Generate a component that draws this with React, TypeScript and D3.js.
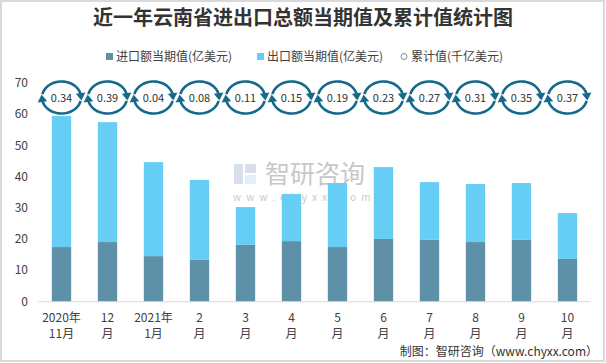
import React from "react";
import * as d3 from "d3";

const categories = [
  ["2020年", "11月"],
  ["12", "月"],
  ["2021年", "1月"],
  ["2", "月"],
  ["3", "月"],
  ["4", "月"],
  ["5", "月"],
  ["6", "月"],
  ["7", "月"],
  ["8", "月"],
  ["9", "月"],
  ["10", "月"],
];
const importValues = [17.5, 19.1, 14.6, 13.4, 18.2, 19.4, 17.5, 20.1, 19.8, 19.1, 19.8, 13.7];
const exportValues = [42.0, 38.4, 30.1, 25.6, 12.1, 15.1, 20.5, 23.0, 18.5, 18.6, 18.2, 14.7];
const cumulativeValues = ["0.34", "0.39", "0.04", "0.08", "0.11", "0.15", "0.19", "0.23", "0.27", "0.31", "0.35", "0.37"];
const yTicks = [0, 10, 20, 30, 40, 50, 60, 70];

const W = 606;
const H = 363;
const IMPORT_COLOR = "#5e91a7";
const EXPORT_COLOR = "#66cdf5";
const ICON_COLOR = "#17698b";
const FONT = "'Microsoft YaHei', 'Noto Sans CJK SC', sans-serif";

function arrowIcon(cx: number, cy: number, rx: number, ry: number) {
  const pt = (deg: number) => {
    const t = (deg * Math.PI) / 180;
    return [cx + rx * Math.cos(t), cy + ry * Math.sin(t)];
  };
  const arc = (a0: number, a1: number) => {
    const p = d3.path();
    const n = 30;
    for (let i = 0; i <= n; i++) {
      const [x, y] = pt(a0 + ((a1 - a0) * i) / n);
      if (i === 0) p.moveTo(x, y);
      else p.lineTo(x, y);
    }
    return p.toString();
  };
  const head = (deg: number) => {
    const [x, y] = pt(deg);
    const t = (deg * Math.PI) / 180;
    let dx = -rx * Math.sin(t);
    let dy = ry * Math.cos(t);
    const L = Math.hypot(dx, dy);
    dx /= L;
    dy /= L;
    const nx = -dy, ny = dx;
    const len = 7.5, w = 4.8;
    const tip = [x + dx * len * 0.6, y + dy * len * 0.6];
    const b1 = [x - dx * len * 0.4 + nx * w, y - dy * len * 0.4 + ny * w];
    const b2 = [x - dx * len * 0.4 - nx * w, y - dy * len * 0.4 - ny * w];
    return `M${tip[0]},${tip[1]}L${b1[0]},${b1[1]}L${b2[0]},${b2[1]}Z`;
  };
  return (
    <g>
      <path d={arc(192, 350)} fill="none" stroke={ICON_COLOR} strokeWidth={2.6} />
      <path d={head(355)} fill={ICON_COLOR} />
      <path d={arc(12, 170)} fill="none" stroke={ICON_COLOR} strokeWidth={2.6} />
      <path d={head(175)} fill={ICON_COLOR} />
    </g>
  );
}

export default function App() {
  const x = d3
    .scaleBand<number>()
    .domain(d3.range(categories.length))
    .range([38.5, 590.5])
    .paddingInner(0.58)
    .paddingOuter(0.29);
  const y = d3.scaleLinear().domain([0, 70]).range([301.7, 83.1]);
  const bw = x.bandwidth();

  return (
    <div style={{ position: "absolute", left: 0, top: 0 }}>
      <svg width={W} height={H} style={{ display: "block" }}>
        <rect x={0} y={0} width={W} height={H} fill="#ffffff" />
        <rect x={1} y={1} width={W - 3} height={H - 3} fill="none" stroke="#d9d9d9" strokeWidth={2} />

        {/* watermark */}
        <g opacity={0.55}>
          <rect x={234} y={164} width={9} height={20} fill="#b9c6dc" />
          <rect x={245} y={164} width={11} height={9} fill="#b9c6dc" />
          <rect x={245} y={175} width={11} height={9} fill="#c7e3f3" />
          <text x={265} y={183} fontFamily={FONT} fontSize={25} fill="#9a9a9a">智研咨询</text>
          <text x={233} y={201} fontFamily={FONT} fontSize={10} fill="#9a9a9a" letterSpacing={5.2}>www.chyxx.com</text>
        </g>

        <text x={W / 2} y={25} textAnchor="middle" fontFamily={FONT} fontWeight="bold" fontSize={20} fill="#333">
          近一年云南省进出口总额当期值及累计值统计图
        </text>

        {/* legend */}
        <g fontFamily={FONT} fontSize={12} fill="#404040">
          <rect x={106} y={53} width={7} height={7} fill={IMPORT_COLOR} />
          <text x={116} y={61}>进口额当期值(亿美元)</text>
          <rect x={257} y={53} width={7} height={7} fill={EXPORT_COLOR} />
          <text x={267} y={61}>出口额当期值(亿美元)</text>
          <circle cx={404} cy={56.5} r={3} fill="none" stroke="#7f8c99" strokeWidth={1} />
          <text x={411} y={61}>累计值(千亿美元)</text>
        </g>

        {/* y axis labels */}
        <g fontFamily={FONT} fontSize={12} fill="#404040">
          {yTicks.map((t) => (
            <text key={t} x={28} y={y(t) + 4} textAnchor="end">{t}</text>
          ))}
        </g>

        {/* bars */}
        {categories.map((_, i) => (
          <g key={i}>
            <rect x={x(i)} y={y(importValues[i])} width={bw} height={y(0) - y(importValues[i])} fill={IMPORT_COLOR} />
            <rect
              x={x(i)}
              y={y(importValues[i] + exportValues[i])}
              width={bw}
              height={y(importValues[i]) - y(importValues[i] + exportValues[i])}
              fill={EXPORT_COLOR}
            />
          </g>
        ))}

        <line x1={38.5} x2={590.5} y1={301.7} y2={301.7} stroke="#d9d9d9" strokeWidth={1} />

        {/* x labels */}
        <g fontFamily={FONT} fontSize={12} fill="#404040" textAnchor="middle">
          {categories.map((c, i) => (
            <g key={i}>
              <text x={x(i)! + bw / 2} y={322}>{c[0]}</text>
              <text x={x(i)! + bw / 2} y={338}>{c[1]}</text>
            </g>
          ))}
        </g>

        {/* cumulative icons */}
        {cumulativeValues.map((v, i) => {
          const cx = x(i)! + bw / 2;
          const cy = 97.5;
          return (
            <g key={i}>
              {arrowIcon(cx, cy, 19.5, 16)}
              <text x={cx} y={cy + 4} textAnchor="middle" fontFamily={FONT} fontSize={11} fill="#333">{v}</text>
            </g>
          );
        })}

        <text x={598} y={356} textAnchor="end" fontFamily={FONT} fontSize={12} fill="#333">
          制图：智研咨询（www.chyxx.com）
        </text>
      </svg>
    </div>
  );
}
